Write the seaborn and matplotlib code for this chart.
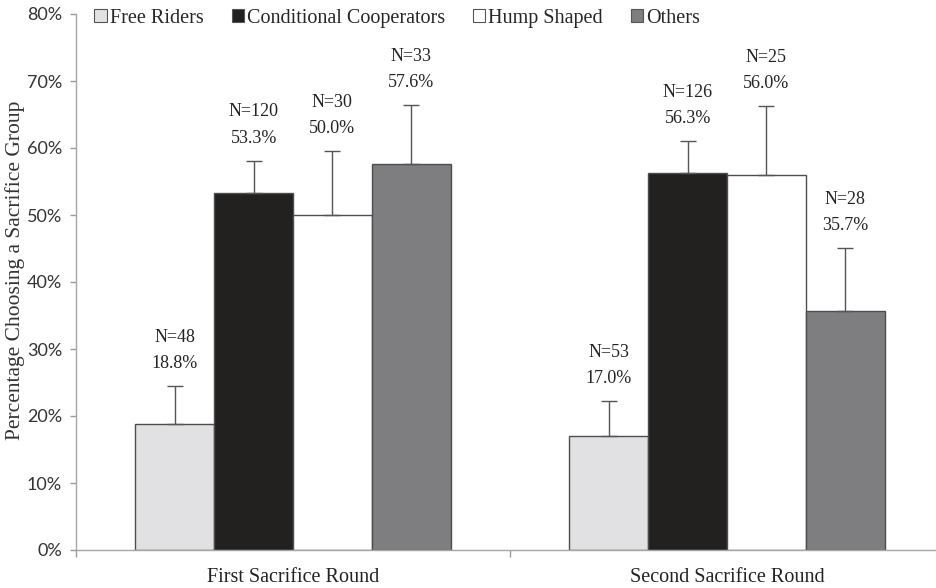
import matplotlib
matplotlib.use("Agg")
import matplotlib.pyplot as plt
import matplotlib.ticker as mticker
from matplotlib.patches import Patch
import numpy as np
import pandas as pd
import seaborn as sns

# Share of subjects choosing a sacrifice group, by contribution type and round
rounds = ["First Sacrifice Round", "Second Sacrifice Round"]
types = ["Free Riders", "Conditional Cooperators", "Hump Shaped", "Others"]
pct_first = [18.8, 53.3, 50.0, 57.6]
pct_second = [17.0, 56.3, 56.0, 35.7]
err_first = [5.7, 4.8, 9.5, 8.8]
err_second = [5.2, 4.7, 10.3, 9.4]
n_first = [48, 120, 30, 33]
n_second = [53, 126, 25, 28]

fills = ["#e1e1e3", "#231f20", "#ffffff", "#7e7e81"]

df = pd.DataFrame({
    "round": [rounds[0]] * 4 + [rounds[1]] * 4,
    "type": types + types,
    "pct": pct_first + pct_second,
    "err": err_first + err_second,
    "n": n_first + n_second,
})

sns.set_theme(style="white")
serif = ["Liberation Serif", "DejaVu Serif"]
plt.rcParams["font.family"] = serif

fig = plt.figure(figsize=(9.36, 5.88), dpi=100)
ax = fig.add_axes([76 / 936, 38 / 588, 868 / 936, 536 / 588])

sns.barplot(data=df, x="round", y="pct", hue="type", hue_order=types,
            order=rounds, palette=fills, width=0.726, gap=0,
            edgecolor="#4d4d4d", linewidth=1.0, errorbar=None,
            legend=False, ax=ax)

bar_containers = list(ax.containers)

# upper-only error bars and the N / percentage annotations above them
for hue_idx, cont in enumerate(bar_containers):
    sub = df[df["type"] == types[hue_idx]].set_index("round").loc[rounds]
    for bar, (_, row) in zip(cont.patches, sub.iterrows()):
        xc = bar.get_x() + bar.get_width() / 2
        h = row["pct"]
        ax.errorbar(xc, h, yerr=[[0], [row["err"]]], fmt="none",
                    ecolor="#555555", elinewidth=1.0, capsize=5.5,
                    capthick=1.0, zorder=3)
        top = h + row["err"]
        ax.annotate(f"{h:.1f}%", (xc, top), xytext=(0, 10),
                    textcoords="offset points", ha="center", va="bottom",
                    fontsize=13, color="#222222")
        ax.annotate(f"N={int(row['n'])}", (xc, top), xytext=(0, 29),
                    textcoords="offset points", ha="center", va="bottom",
                    fontsize=13, color="#222222")

ax.set_ylim(0, 80)
ax.set_xlim(-0.5, 1.5)
ax.yaxis.set_major_locator(mticker.MultipleLocator(10))
ax.yaxis.set_major_formatter(mticker.FuncFormatter(lambda v, _: f"{v:.0f}%"))
for lab in ax.get_yticklabels():
    lab.set_family(["Lato", "DejaVu Sans"])
ax.tick_params(axis="y", left=True, length=4, width=1, color="#9a9a9a",
               labelsize=13, labelcolor="#333333", pad=6)

# x ticks sit on the category boundaries; labels stay centred
ax.set_xticks([0, 1])
ax.set_xticklabels(rounds, fontsize=14.5, color="#222222")
ax.tick_params(axis="x", bottom=False, pad=7)
ax.set_xticks([-0.5, 0.5, 1.5], minor=True)
ax.tick_params(axis="x", which="minor", bottom=True, length=5, width=1,
               color="#9a9a9a")

ax.set_xlabel("")
ax.set_ylabel("Percentage Choosing a Sacrifice Group", fontsize=15.5,
              color="#333333")
ax.yaxis.label.set_va("center")
ax.yaxis.set_label_coords(-61 / 868, 0.522)

for side in ["top", "right"]:
    ax.spines[side].set_visible(False)
for side in ["left", "bottom"]:
    ax.spines[side].set_color("#a6a6a6")
    ax.spines[side].set_linewidth(1.0)

handles = [Patch(facecolor=c, edgecolor="#555555", linewidth=0.8) for c in fills]
ax.legend(handles, types, ncol=4, frameon=False, loc="center left",
          bbox_to_anchor=(0.012, 0.992), fontsize=14.5, handlelength=0.6,
          handleheight=0.6, handletextpad=0.15, columnspacing=1.4,
          borderaxespad=0)

fig.savefig("out.png", dpi=100)
